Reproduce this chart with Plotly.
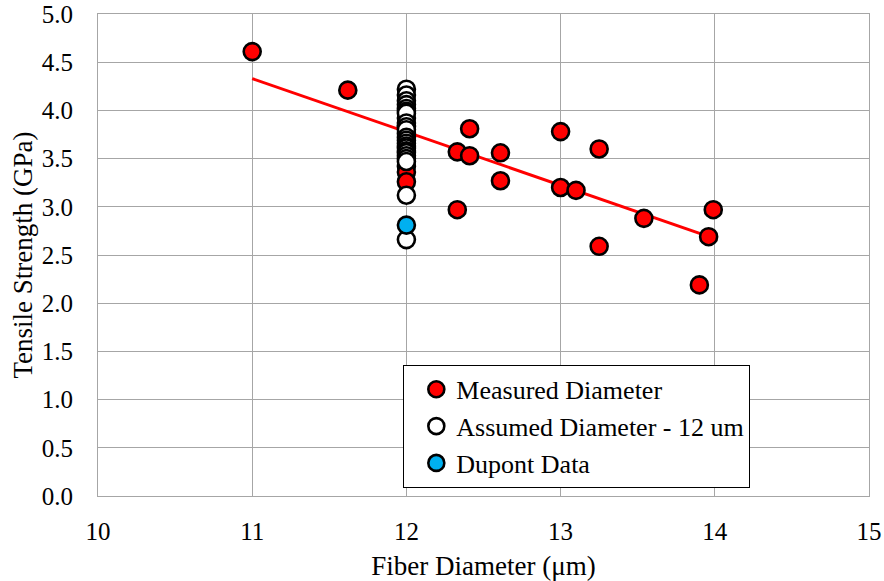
import plotly.graph_objects as go

# Measured diameter data
meas_x = [11.0, 11.62, 12.0, 12.0, 12.0, 12.0, 12.0, 12.0,
          12.33, 12.33, 12.41, 12.41, 12.61, 12.61, 13.0, 13.0, 13.1,
          13.25, 13.25, 13.54, 13.96, 13.99, 13.9]
meas_y = [4.61, 4.21, 3.92, 3.84, 3.76, 3.42, 3.36, 3.26,
          3.57, 2.97, 3.81, 3.53, 3.56, 3.27, 3.78, 3.20, 3.17,
          3.60, 2.59, 2.88, 2.69, 2.97, 2.19]

# Assumed diameter (12 um)
assumed_y = [4.22, 4.16, 4.10, 4.06, 4.02, 3.99, 3.97, 3.87, 3.83,
             3.80, 3.72, 3.69, 3.66, 3.63, 3.61, 3.58, 3.56, 3.53,
             3.50, 3.47, 3.12, 2.66]
assumed_x = [12.0] * len(assumed_y)

# Dupont data
dupont_x = [12.0]
dupont_y = [2.81]

# Linear trendline of measured data
trend_x = [11.0, 14.0]
trend_y = [4.33, 2.67]

FONT = "Liberation Serif"

fig = go.Figure()
fig.add_trace(go.Scatter(x=trend_x, y=trend_y, mode="lines",
                         line=dict(color="#FF0000", width=3),
                         showlegend=False, hoverinfo="skip"))
fig.add_trace(go.Scatter(x=meas_x, y=meas_y, mode="markers", name="Measured Diameter",
                         marker=dict(size=17, color="#FF0000", line=dict(color="black", width=2.6))))
fig.add_trace(go.Scatter(x=assumed_x, y=assumed_y, mode="markers", name="Assumed Diameter - 12 um",
                         marker=dict(size=17, color="white", line=dict(color="black", width=2.6))))
fig.add_trace(go.Scatter(x=dupont_x, y=dupont_y, mode="markers", name="Dupont Data",
                         marker=dict(size=17, color="#00B0F0", line=dict(color="black", width=2.6))))

fig.update_layout(
    width=884, height=581,
    margin=dict(l=98, r=15, t=14, b=85),
    paper_bgcolor="white", plot_bgcolor="white",
    font=dict(family=FONT, size=25, color="black"),
    showlegend=True,
    legend=dict(x=0.396, y=0.272, xanchor="left", yanchor="top",
                bgcolor="white", bordercolor="black", borderwidth=1,
                font=dict(family=FONT, size=26),
                indentation=12, itemsizing="trace",
                entrywidth=385, entrywidthmode="pixels"),
    xaxis=dict(range=[10, 15], dtick=1, tick0=10, automargin=False,
               showgrid=True, gridcolor="#a6a6a6", gridwidth=1,
               showline=True, linecolor="#a6a6a6", linewidth=1, mirror=True,
               zeroline=False, ticks="outside", ticklen=13, tickcolor="rgba(0,0,0,0)",
               tickfont=dict(family=FONT, size=25),
               title=dict(text="Fiber Diameter (μm)", font=dict(family=FONT, size=27), standoff=12)),
    yaxis=dict(range=[0, 5], dtick=0.5, tick0=0, tickformat=".1f", automargin=False,
               showgrid=True, gridcolor="#a6a6a6", gridwidth=1,
               showline=True, linecolor="#a6a6a6", linewidth=1, mirror=True,
               zeroline=False, ticks="outside", ticklen=19, tickcolor="rgba(0,0,0,0)",
               tickfont=dict(family=FONT, size=25),
               title=dict(text="Tensile Strength (GPa)", font=dict(family=FONT, size=27), standoff=1)),
)

fig.write_html("out.html")
